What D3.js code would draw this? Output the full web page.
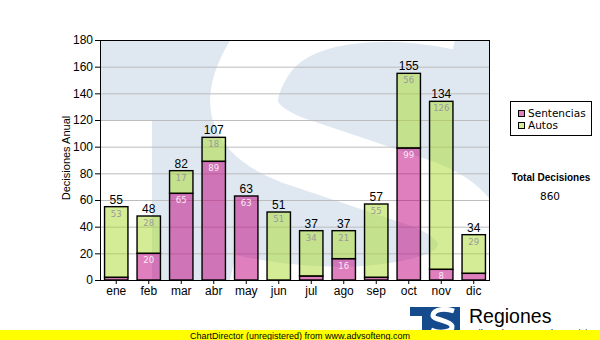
<!DOCTYPE html>
<html>
<head>
<meta charset="utf-8">
<script src="https://cdn.jsdelivr.net/npm/d3@7"></script>
<style>
  html, body { margin: 0; padding: 0; background: #ffffff; }
  svg { display: block; }
</style>
</head>
<body>
<svg id="chart" width="600" height="340"></svg>
<script>
// Monthly decisions, stacked: Sentencias + Autos
const meses = ["ene", "feb", "mar", "abr", "may", "jun", "jul", "ago", "sep", "oct", "nov", "dic"];
const sentencias = [2, 20, 65, 89, 63, 0, 3, 16, 2, 99, 8, 5];
const autos = [53, 28, 17, 18, 0, 51, 34, 21, 55, 56, 126, 29];
const yTicks = [0, 20, 40, 60, 80, 100, 120, 140, 160, 180];
const seriesNames = ["Sentencias", "Autos"];

const svg = d3.select("#chart");
const W = 600, H = 340;
const plot = { left: 100, top: 40, right: 490, bottom: 280 };

const x = d3.scaleBand().domain(meses).range([plot.left, plot.right])
  .paddingInner(0.28).paddingOuter(0.14);
const y = d3.scaleLinear().domain([0, 180]).range([plot.bottom, plot.top]);

const colors = { Sentencias: "#c0007e", Autos: "#a9d92c" };
const barOpacity = 0.5;

// ---- plot background with a faint "TS" emblem ----
const defs = svg.append("defs");
defs.append("clipPath").attr("id", "plotClip").append("rect")
  .attr("x", plot.left).attr("y", plot.top)
  .attr("width", plot.right - plot.left).attr("height", plot.bottom - plot.top);

const bg = svg.append("g").attr("clip-path", "url(#plotClip)");
bg.append("rect")
  .attr("x", plot.left).attr("y", plot.top)
  .attr("width", plot.right - plot.left).attr("height", plot.bottom - plot.top)
  .attr("fill", "#dfe8f1");
// notch left of the T stem
bg.append("rect").attr("x", plot.left).attr("y", 120)
  .attr("width", 52).attr("height", 170).attr("fill", "#ffffff");
// the S
bg.append("path")
  .attr("d", "M 460,16 C 385,0 290,4 258,60 C 232,104 242,130 292,150 L 420,193 C 470,211 482,240 464,268 C 442,300 330,312 228,288")
  .attr("fill", "none").attr("stroke", "#ffffff").attr("stroke-width", 68);

// ---- grid ----
svg.append("g").selectAll("line").data(yTicks.filter(d => d > 0 && d < 180)).join("line")
  .attr("x1", plot.left).attr("x2", plot.right)
  .attr("y1", d => y(d) + 0.5).attr("y2", d => y(d) + 0.5)
  .attr("stroke", "#bdbdbd").attr("stroke-width", 1);

// ---- stacked bars ----
const rows = meses.map((m, i) => ({ mes: m, Sentencias: sentencias[i], Autos: autos[i] }));
const stack = d3.stack().keys(seriesNames)(rows);

const barLayer = svg.append("g");
stack.forEach(layer => {
  const key = layer.key;
  const segs = layer.filter(d => d[1] - d[0] > 0);
  barLayer.append("g").selectAll("rect").data(segs).join("rect")
    .attr("x", d => x(d.data.mes))
    .attr("y", d => y(d[1]))
    .attr("width", x.bandwidth())
    .attr("height", d => y(d[0]) - y(d[1]))
    .attr("fill", colors[key])
    .attr("fill-opacity", barOpacity)
    .attr("stroke", "#000")
    .attr("stroke-width", 1.4);
});

// segment values inside the bars
stack.forEach(layer => {
  const key = layer.key;
  const segs = layer.filter(d => y(d[0]) - y(d[1]) >= 10);
  svg.append("g").selectAll("text").data(segs).join("text")
    .attr("x", d => x(d.data.mes) + x.bandwidth() / 2)
    .attr("y", d => y(d[1]) + 10)
    .attr("text-anchor", "middle")
    .attr("font-family", "DejaVu Sans, Verdana, sans-serif")
    .attr("font-size", 8.5)
    .attr("fill", key === "Sentencias" ? "#fbe9f5" : "#9a9a9a")
    .text(d => d[1] - d[0]);
});

// totals above bars
const totals = rows.map(r => ({ mes: r.mes, total: r.Sentencias + r.Autos }));
svg.append("g").selectAll("text").data(totals).join("text")
  .attr("x", d => x(d.mes) + x.bandwidth() / 2)
  .attr("y", d => y(d.total) - 3)
  .attr("text-anchor", "middle")
  .attr("font-family", "Liberation Sans, Arial, sans-serif")
  .attr("font-size", 12)
  .attr("fill", "#000")
  .text(d => d.total);

// ---- frame and axes ----
svg.append("rect")
  .attr("x", plot.left + 0.5).attr("y", plot.top + 0.5)
  .attr("width", plot.right - plot.left - 1).attr("height", plot.bottom - plot.top)
  .attr("fill", "none").attr("stroke", "#000").attr("stroke-width", 1);

const yAxis = d3.axisLeft(y).tickValues(yTicks).tickSize(5).tickPadding(2);
const gy = svg.append("g").attr("transform", `translate(${plot.left},0)`).call(yAxis);
gy.select(".domain").remove();
gy.selectAll("text").attr("font-family", "Liberation Sans, Arial, sans-serif")
  .attr("font-size", 12).attr("fill", "#000");

const xAxis = d3.axisBottom(x).tickSize(4).tickPadding(2);
const gx = svg.append("g").attr("transform", `translate(0,${plot.bottom})`).call(xAxis);
gx.select(".domain").remove();
gx.selectAll("text").attr("font-family", "Liberation Sans, Arial, sans-serif")
  .attr("font-size", 12).attr("fill", "#000");

svg.append("text")
  .attr("transform", `translate(70,158) rotate(-90)`)
  .attr("text-anchor", "middle")
  .attr("font-family", "Liberation Sans, Arial, sans-serif")
  .attr("font-size", 11)
  .text("Decisiones Anual");

// ---- legend ----
const lg = svg.append("g");
lg.append("rect").attr("x", 510.5).attr("y", 101.5).attr("width", 81).attr("height", 34)
  .attr("fill", "#fff").attr("stroke", "#000");
seriesNames.forEach((name, i) => {
  lg.append("rect").attr("x", 518.5).attr("y", 110.5 + i * 12).attr("width", 6).attr("height", 6)
    .attr("fill", colors[name]).attr("fill-opacity", barOpacity).attr("stroke", "#000");
  lg.append("text").attr("x", 528).attr("y", 117 + i * 12)
    .attr("font-family", "DejaVu Sans, Verdana, sans-serif").attr("font-size", 10.5)
    .text(name);
});

// total of all decisions
const totalDecisiones = d3.sum(sentencias) + d3.sum(autos);
svg.append("text").attr("x", 551).attr("y", 181).attr("text-anchor", "middle")
  .attr("font-family", "Liberation Sans, Arial, sans-serif").attr("font-size", 10)
  .attr("font-weight", "bold").text("Total Decisiones");
svg.append("text").attr("x", 550).attr("y", 200).attr("text-anchor", "middle")
  .attr("font-family", "DejaVu Sans, Verdana, sans-serif").attr("font-size", 10.5)
  .text(totalDecisiones);

// ---- footer emblem ----
const logo = svg.append("g");
logo.append("rect").attr("x", 410).attr("y", 307).attr("width", 50).attr("height", 30).attr("fill", "#154a8c");
logo.append("rect").attr("x", 410).attr("y", 316).attr("width", 12).attr("height", 20).attr("fill", "#fff");
logo.append("path")
  .attr("d", "M 454,311 C 445,308 434,309 433,315 C 432,320 450,320 452,326 C 453,332 440,334 431,330")
  .attr("fill", "none").attr("stroke", "#fff").attr("stroke-width", 5);
logo.append("text").attr("x", 469).attr("y", 322.5)
  .attr("font-family", "Liberation Sans, Arial, sans-serif").attr("font-size", 19.5)
  .text("Regiones");
logo.append("text").attr("x", 470).attr("y", 336)
  .attr("font-family", "Liberation Sans, Arial, sans-serif").attr("font-size", 9.5)
  .text("Tribunal Supremo de Justicia");

// ---- footer strip ----
svg.append("rect").attr("x", 0).attr("y", 330).attr("width", W).attr("height", 10).attr("fill", "#ffff00");
svg.append("text").attr("x", 300).attr("y", 338.5).attr("text-anchor", "middle")
  .attr("font-family", "Liberation Sans, Arial, sans-serif").attr("font-size", 9)
  .text("ChartDirector (unregistered) from www.advsofteng.com");
</script>
</body>
</html>
